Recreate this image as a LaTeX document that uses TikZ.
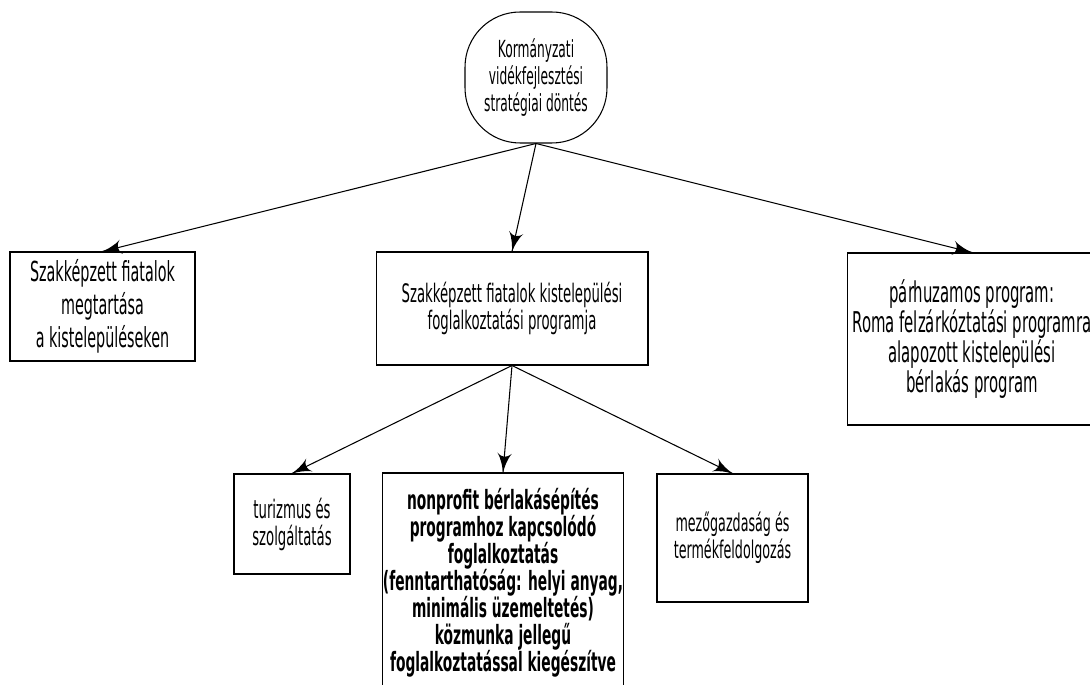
\documentclass[tikz,border=0pt]{standalone}
\usepackage{fontspec}
\setmainfont{DejaVu Sans}[FakeStretch=0.52]
\usetikzlibrary{arrows}
\usetikzlibrary{decorations.markings}
\tikzset{pfeil/.style = {decoration={markings,
                                     mark=at position 1 with {\arrow[scale=2.4]{latex'}}},
                         postaction={decorate}}}
\tikzset{doboz/.style = {draw, align=center, inner sep = 0}}
\newcommand{\betu}[2]{\fontsize{#1}{#2}\selectfont}

\begin{document}
\begin{tikzpicture}[x=0.02cm, y=-0.02cm, line width=0.6pt]
      \useasboundingbox (0, 0) rectangle (1090, 685);
      \clip (0, 0) rectangle (1090, 685);

      \node [doboz, rounded corners=1.1cm, minimum width=2.84cm, minimum height=2.62cm,
             font=\betu{13.4}{15.4}] (dontes) at (536, 77.5)
            {Kormányzati\\vidékfejlesztési\\stratégiai döntés};

      \node [doboz, minimum width=3.7cm, minimum height=2.18cm, font=\betu{15.7}{18.8}]
            (megtart) at (102.5, 306.5) {Szakképzett fiatalok\\megtartása\\a kistelepüléseken};
      \node [doboz, minimum width=5.44cm, minimum height=2.26cm, font=\betu{14.5}{15.4}]
            (foglal) at (512, 308.5) {Szakképzett fiatalok kistelepülési\\foglalkoztatási programja};
      \node [doboz, minimum width=5cm, minimum height=3.44cm, font=\betu{16.3}{17}]
            (roma) at (972, 339) {párhuzamos program:\\Roma felzárkóztatási programra\\alapozott kistelepülési\\bérlakás program};

      \node [doboz, minimum width=2.32cm, minimum height=2cm, font=\betu{14.5}{15.4}]
            (turizmus) at (292, 524) {turizmus és\\szolgáltatás};
      \node [doboz, minimum width=4.56cm, minimum height=4.38cm, font=\betu{15.1}{15.4}\bfseries]
            (berlakas) at (503, 582.5) {nonprofit bérlakásépítés\\programhoz kapcsolódó\\foglalkoztatás\\(fenntarthatóság: helyi anyag,\\minimális üzemeltetés)\\közmunka jellegű\\foglalkoztatással kiegészítve};
      \node [doboz, minimum width=3.02cm, minimum height=2.56cm, font=\betu{13.9}{15.4}]
            (mezo) at (732.5, 538) {mezőgazdaság és\\termékfeldolgozás};

      \draw [pfeil] (dontes.south) -- (megtart.north);
      \draw [pfeil] (dontes.south) -- (foglal.north);
      \draw [pfeil] (dontes.south) -- (roma.north);
      \draw [pfeil] (foglal.south) -- (turizmus.north);
      \draw [pfeil] (foglal.south) -- (berlakas.north);
      \draw [pfeil] (foglal.south) -- (mezo.north);
    \end{tikzpicture}
\end{document}
